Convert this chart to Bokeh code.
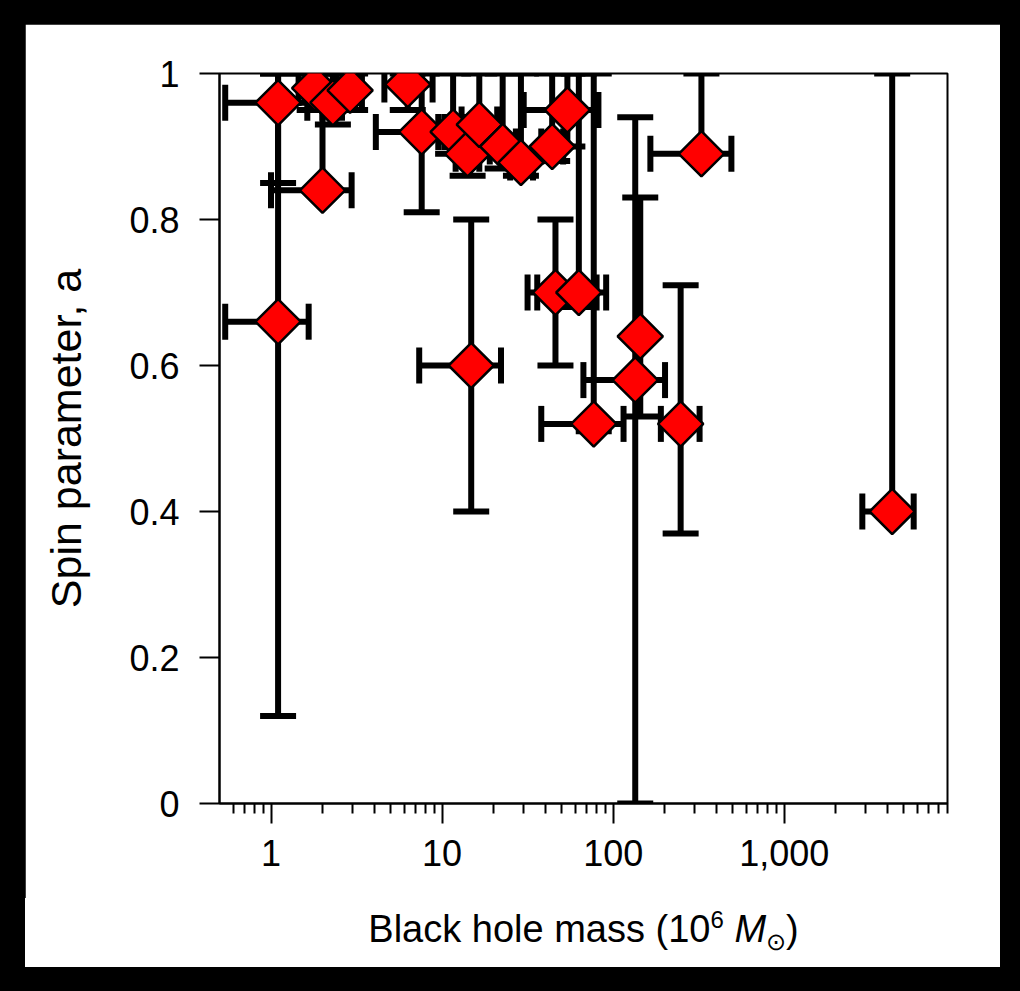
import numpy as np
from bokeh.plotting import figure
from bokeh.models import FixedTicker, Range1d, Div
from bokeh.layouts import column
from bokeh.embed import file_html
from bokeh.resources import INLINE

# ---- data (black hole mass in 10^6 Msun, spin parameter a) ----
mass    = [1.10, 1.10, 2.0, 1.8, 2.3, 2.9, 6.3, 7.6, 11.6, 14.1, 16.5, 22.6, 28.9, 44.0, 54.0,
           46.0, 63.0, 77.0, 134.6, 144.0, 248.0, 328.0, 4275.0, 14.8]
mass_lo = [0.54, 0.54, 1.0, 1.45, 2.0, 2.4, 4.6, 4.1, 9.5, 12.0, 13.0, 19.0, 25.0, 38.0, 30.0,
           31.6, 36.0, 38.0, 67.0, 144.0, 190.0, 165.0, 2860.0, 7.35]
mass_hi = [1.63, 1.66, 2.96, 2.3, 2.6, 3.4, 8.8, 10.3, 14.0, 16.5, 21.0, 27.0, 34.0, 51.0, 82.0,
           80.0, 91.0, 115.0, 201.0, 144.0, 320.0, 491.0, 5710.0, 22.1]
spin    = [0.96, 0.66, 0.84, 0.98, 0.96, 0.977, 0.985, 0.92, 0.92, 0.89, 0.93, 0.90, 0.878, 0.90, 0.95,
           0.70, 0.70, 0.52, 0.58, 0.64, 0.52, 0.89, 0.40, 0.60]
spin_lo = [0.85, 0.12, 0.84, 0.95, 0.93, 0.95, 0.95, 0.81, 0.89, 0.86, 0.90, 0.87, 0.86, 0.88, 0.90,
           0.60, 0.68, 0.51, 0.00, 0.53, 0.37, 0.89, 0.40, 0.40]
spin_hi = [1.0, 1.0, 1.0, 1.0, 1.0, 1.0, 1.0, 1.0, 1.0, 0.93, 1.0, 1.0, 1.0, 1.0, 1.0,
           0.80, 1.0, 1.0, 0.94, 0.83, 0.71, 1.0, 1.0, 0.80]

x_ticks = [1, 10, 100, 1000]
x_tick_labels = ["1", "10", "100", "1,000"]
x_minor = [0.6, 0.7, 0.8, 0.9] + [k * d for d in (1, 10, 100, 1000) for k in range(2, 10)]
y_ticks = [0.0, 0.2, 0.4, 0.6, 0.8, 1.0]
y_tick_labels = ["0", "0.2", "0.4", "0.6", "0.8", "1"]

FONT = "Liberation Sans"

p = figure(x_axis_type="log", x_range=Range1d(0.5, 9000), y_range=Range1d(0, 1),
           width=975, height=874,
           min_border_left=194, min_border_top=49, min_border_right=53, min_border_bottom=95,
           output_backend="svg", toolbar_location=None)
p.margin = 0
p.background_fill_color = "white"
p.border_fill_color = "white"
p.outline_line_color = "black"
p.outline_line_width = 2
p.xgrid.visible = False
p.ygrid.visible = False

# error bars
p.segment(x0=mass, y0=spin_lo, x1=mass, y1=spin_hi, line_color="black", line_width=6)
p.segment(x0=mass_lo, y0=spin, x1=mass_hi, y1=spin, line_color="black", line_width=6)
p.scatter(x=mass + mass, y=spin_lo + spin_hi, marker="dash", size=36,
          line_color="black", line_width=6)
p.scatter(x=mass_lo + mass_hi, y=spin + spin, marker="dash", size=36, angle=np.pi / 2,
          line_color="black", line_width=6)

# markers
p.scatter(x=mass, y=spin, marker="square", angle=np.pi / 4, size=32,
          fill_color="#ff0000", line_color="black", line_width=2.5)

# x axis
xa = p.xaxis[0]
xa.ticker = FixedTicker(ticks=x_ticks, minor_ticks=x_minor)
xa.major_label_overrides = dict(zip(x_ticks, x_tick_labels))
xa.major_tick_out = 20
xa.major_tick_in = 0
xa.minor_tick_out = 10
xa.minor_tick_in = 0
xa.major_tick_line_width = 2
xa.minor_tick_line_width = 2
xa.axis_line_width = 2
xa.major_label_standoff = 16
xa.major_label_text_font = FONT
xa.major_label_text_font_size = "36px"
xa.major_label_text_color = "black"

# y axis
ya = p.yaxis[0]
ya.ticker = FixedTicker(ticks=y_ticks, minor_ticks=[])
ya.major_label_overrides = dict(zip(y_ticks, y_tick_labels))
ya.major_tick_out = 20
ya.major_tick_in = 0
ya.minor_tick_out = 0
ya.minor_tick_in = 0
ya.major_tick_line_width = 2
ya.axis_line_width = 2
ya.major_label_standoff = 20
ya.major_label_text_font = FONT
ya.major_label_text_font_size = "36px"
ya.major_label_text_color = "black"
ya.axis_label = "Spin parameter, a"
ya.axis_label_text_font = FONT
ya.axis_label_text_font_size = "43px"
ya.axis_label_text_font_style = "normal"
ya.axis_label_standoff = 36
ya.axis_label_text_color = "black"

# x axis title (with superscript, italic M and subscript sun symbol)
xlabel = Div(text="Black hole mass (10<sup style='font-size:24px'>6</sup>&nbsp;<i>M</i>"
                  "<sub style='font-size:24px'>\u2299</sub>)",
             width=975, height=69, margin=0,
             styles={"background-color": "white", "font-family": FONT, "font-size": "38px",
                     "color": "black", "text-align": "center", "padding-left": "142px",
                     "padding-top": "8px", "line-height": "1.15", "box-sizing": "border-box"})

page = column(p, xlabel, width=1020, height=991, spacing=0,
              styles={"background-color": "black", "padding-left": "25px", "padding-top": "24px",
                      "box-sizing": "border-box"})

open("out.html", "w").write(file_html(page, INLINE))
